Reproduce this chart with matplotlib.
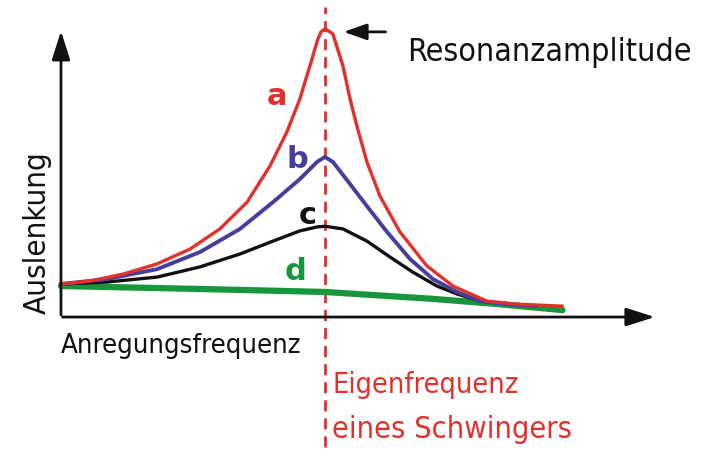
import matplotlib
matplotlib.use("Agg")
import matplotlib.pyplot as plt

# frequency relative to the eigenfrequency, amplitude relative to static deflection
f_a = [0.0, 0.11, 0.235, 0.364, 0.489, 0.602, 0.705, 0.792, 0.856, 0.905, 0.943, 0.973, 0.985, 1.0,
       1.015, 1.03, 1.068, 1.095, 1.121, 1.159, 1.208, 1.284, 1.386, 1.485, 1.614, 1.727, 1.898]
A_a = [1.0, 1.09, 1.30, 1.61, 2.06, 2.67, 3.48, 4.58, 5.61, 6.61, 7.61, 8.42, 8.64, 8.73,
       8.66, 8.58, 7.61, 6.61, 5.79, 4.70, 3.67, 2.58, 1.55, 0.94, 0.48, 0.39, 0.33]

f_b = [0.0, 0.174, 0.364, 0.527, 0.678, 0.803, 0.905, 0.970, 1.0, 1.030, 1.095, 1.159, 1.235,
       1.322, 1.409, 1.5, 1.587, 1.689, 1.80]
A_b = [1.0, 1.15, 1.45, 1.97, 2.67, 3.48, 4.18, 4.70, 4.85, 4.70, 4.03, 3.36, 2.58,
       1.76, 1.15, 0.76, 0.48, 0.39, 0.34]

f_c = [0.0, 0.174, 0.364, 0.527, 0.678, 0.803, 0.905, 0.970, 1.0, 1.068, 1.159, 1.246, 1.333,
       1.424, 1.5, 1.56]
A_c = [1.0, 1.06, 1.21, 1.52, 1.91, 2.30, 2.61, 2.73, 2.75, 2.67, 2.30, 1.82, 1.36,
       0.94, 0.70, 0.55]

f_d = [0.0, 0.53, 1.0, 1.41, 1.66, 1.90]
A_d = [0.94, 0.85, 0.76, 0.55, 0.39, 0.21]

curve_labels = ["a", "b", "c", "d"]
colors = ["#e4302b", "#463d9c", "#111111", "#17963c"]

plt.rcParams['font.family'] = ['DejaVu Sans']

fig = plt.figure(figsize=(7.08, 4.56), dpi=100)
ax = fig.add_axes([0, 0, 1, 1])
ax.set_xlim(-0.231, 2.451)
ax.set_ylim(-4.18, 9.636)
ax.axis('off')

# axes with arrow heads
arrow = dict(arrowstyle='-|>,head_length=1.1,head_width=0.35', color='#111111', lw=2, mutation_scale=16)
ax.annotate('', xy=(0, 8.75), xytext=(0, -0.02), arrowprops=arrow)
ax.annotate('', xy=(2.26, 0), xytext=(-0.005, 0), arrowprops=arrow)

# eigenfrequency marker
ax.plot([1.0, 1.0], [-3.94, 9.39], color=colors[0], lw=2, dashes=(4, 2.5))

ax.plot(f_d, A_d, color=colors[3], lw=4.5, solid_capstyle='round', solid_joinstyle='round')
ax.plot(f_c, A_c, color=colors[2], lw=2.4, solid_joinstyle='round')
ax.plot(f_b, A_b, color=colors[1], lw=2.8, solid_joinstyle='round')
ax.plot(f_a, A_a, color=colors[0], lw=2.4, solid_joinstyle='round')

label_pos = [(0.818, 6.70), (0.895, 4.80), (0.935, 3.12), (0.89, 1.42)]
for lab, col, (x, y) in zip(curve_labels, colors, label_pos):
    ax.text(x, y, lab, color=col, fontsize=22, fontweight='bold', ha='center', va='center')

# resonance amplitude pointer
ax.annotate('', xy=(1.06, 8.64), xytext=(1.24, 8.64),
            arrowprops=dict(arrowstyle='-|>,head_length=1.0,head_width=0.35', color='#111111', lw=2, mutation_scale=14))

txt = dict(fontstretch='condensed', va='center')
ax.text(1.31, 8.05, 'Resonanzamplitude', fontsize=23, ha='left', color='#111111', **txt)
ax.text(0.0, -0.85, 'Anregungsfrequenz', fontsize=19.7, ha='left', color='#111111', **txt)
ax.text(-0.09, 2.6, 'Auslenkung', fontsize=22.5, rotation=90, ha='center', color='#111111', **txt)
ax.text(1.027, -2.03, 'Eigenfrequenz', fontsize=20.7, ha='left', color=colors[0], **txt)
ax.text(1.027, -3.39, 'eines Schwingers', fontsize=22, ha='left', color=colors[0], **txt)

fig.savefig('out.png', dpi=100)
